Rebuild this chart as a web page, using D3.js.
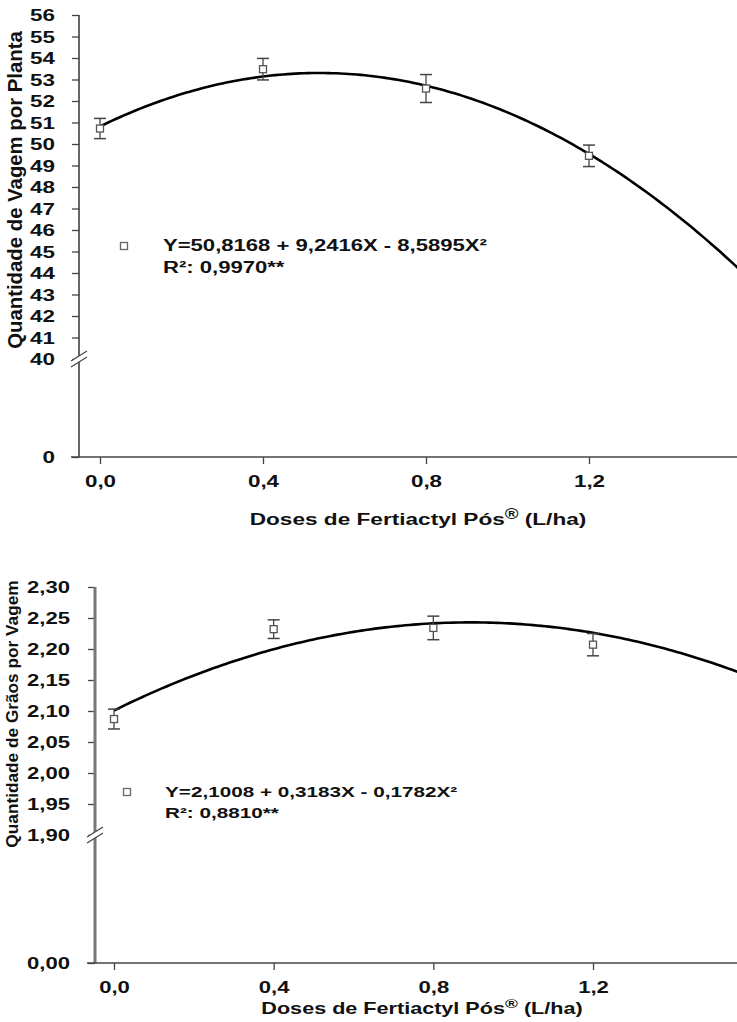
<!DOCTYPE html>
<html><head><meta charset="utf-8">
<script src="https://cdn.jsdelivr.net/npm/d3@7"></script>
<style>
html,body{margin:0;padding:0;background:#fff;}
svg text{font-family:"Liberation Sans",Arial,sans-serif;font-weight:bold;fill:#111;}
</style></head>
<body><svg id="c" width="737" height="1022"></svg>
<script>
// ---- data ----
const doses = [0, 0.4, 0.8, 1.2];
const xTickValuesTop = [0, 0.4, 0.8, 1.2, 1.6];
const xTickValuesBottom = [0, 0.4, 0.8, 1.2];
const xTickLabels = ["0,0", "0,4", "0,8", "1,2", "1,6"];

const vagemMeans = [50.72, 53.48, 52.58, 49.45];
const vagemErr = [0.47, 0.5, 0.65, 0.5];
const vagemCoef = [50.8168, 9.2416, -8.5895];
const vagemTicks = [0, 40, 41, 42, 43, 44, 45, 46, 47, 48, 49, 50, 51, 52, 53, 54, 55, 56];
const vagemTickLabels = ["0","40","41","42","43","44","45","46","47","48","49","50","51","52","53","54","55","56"];

const graosMeans = [2.087, 2.232, 2.234, 2.207];
const graosErr = [0.016, 0.015, 0.019, 0.018];
const graosCoef = [2.1008, 0.3183, -0.1782];
const graosTicks = [0, 1.90, 1.95, 2.00, 2.05, 2.10, 2.15, 2.20, 2.25, 2.30];
const graosTickLabels = ["0,00","1,90","1,95","2,00","2,05","2,10","2,15","2,20","2,25","2,30"];

const svg = d3.select("#c");

// horizontal stretch of a text about its anchor point
function stretch(sel, sx){
  sel.each(function(){
    const t = d3.select(this);
    const x = +t.attr("x") || 0, y = +t.attr("y") || 0;
    t.attr("x",0).attr("y",0).attr("transform",`translate(${x},${y}) scale(${sx},1)`);
  });
}

function panel(cfg){
  const g = svg.append("g");
  const x = d3.scaleLinear().domain([0,1.2]).range(cfg.xr);
  const y = d3.scaleLinear().domain(cfg.ydom).range(cfg.yr);
  // y axis
  const ya = d3.axisLeft(y).tickValues(cfg.yticks).tickFormat((d,i)=>cfg.ylabels[i]).tickSize(7).tickPadding(cfg.ypad);
  const yg = g.append("g").attr("transform",`translate(${cfg.ax},0)`).call(ya);
  yg.select(".domain").remove();
  yg.selectAll(".tick line").attr("stroke","#444").attr("stroke-width",1.3);
  yg.selectAll(".tick text").style("font-size",cfg.tfs+"px").attr("dy",null).attr("dominant-baseline","central");
  stretch(yg.selectAll(".tick text"), cfg.sx);
  g.append("line").attr("x1",cfg.ax).attr("x2",cfg.ax).attr("y1",y(cfg.ydom[2])).attr("y2",y(0))
    .attr("stroke",cfg.axColor).attr("stroke-width",cfg.axW);
  // x axis
  const xa = d3.axisBottom(x).tickValues(cfg.xticks).tickFormat((d,i)=>xTickLabels[i]).tickSize(7).tickPadding(cfg.xpad);
  const xg = g.append("g").attr("transform",`translate(0,${y(0)})`).call(xa);
  xg.select(".domain").remove();
  xg.selectAll(".tick line").attr("stroke","#444").attr("stroke-width",1.3);
  xg.selectAll(".tick text").style("font-size",cfg.tfs+"px");
  stretch(xg.selectAll(".tick text"), cfg.sx);
  g.append("line").attr("x1",cfg.ax-8).attr("x2",737).attr("y1",y(0)).attr("y2",y(0))
    .attr("stroke","#444").attr("stroke-width",1.5);
  // break marks
  const by = y(cfg.ydom[1]);
  g.append("path").attr("d",`M${cfg.ax-8},${by+5-3}L${cfg.ax+8},${by-5-3}L${cfg.ax+8},${by-5+3}L${cfg.ax-8},${by+5+3}Z`)
    .attr("fill","#fff").attr("stroke","none");
  [-3,3].forEach(o=>{
    g.append("line").attr("x1",cfg.ax-8).attr("y1",by+5+o).attr("x2",cfg.ax+8).attr("y2",by-5+o)
      .attr("stroke","#444").attr("stroke-width",1.2);
  });
  // axis titles
  g.append("text").attr("transform",`translate(${cfg.ytx},${cfg.yty}) scale(${cfg.ysx},${cfg.ysy}) rotate(-90)`).attr("text-anchor","middle")
    .attr("dominant-baseline","central").style("font-size",cfg.yfs+"px").text(cfg.ytitle);
  const xt = g.append("text").attr("x",cfg.xtx).attr("y",cfg.xty).attr("text-anchor","middle")
    .style("font-size",cfg.xfs+"px");
  xt.append("tspan").text("Doses de Fertiactyl Pós");
  xt.append("tspan").attr("dy",-6).style("font-size",(cfg.xfs-3)+"px").text("®");
  xt.append("tspan").attr("dy",6).text(" (L/ha)");
  stretch(xt, cfg.xsx);
  // regression curve
  const xs = d3.range(0, 1.6001, 0.01);
  const c = cfg.coef;
  const line = d3.line().x(d=>x(d)).y(d=>y(c[0]+c[1]*d+c[2]*d*d));
  g.append("path").datum(xs).attr("d",line).attr("fill","none").attr("stroke","#000").attr("stroke-width",2.6);
  // error bars
  const pts = doses.map((d,i)=>({d, m:cfg.means[i], e:cfg.err[i]}));
  const eb = g.selectAll(".eb").data(pts).enter().append("g");
  eb.append("line").attr("x1",p=>x(p.d)).attr("x2",p=>x(p.d)).attr("y1",p=>y(p.m-p.e)).attr("y2",p=>y(p.m+p.e))
    .attr("stroke","#444").attr("stroke-width",1.3);
  [1,-1].forEach(s=>{
    eb.append("line").attr("x1",p=>x(p.d)-6).attr("x2",p=>x(p.d)+6).attr("y1",p=>y(p.m+s*p.e)).attr("y2",p=>y(p.m+s*p.e))
      .attr("stroke","#444").attr("stroke-width",1.5);
  });
  eb.append("rect").attr("x",p=>x(p.d)-3.5).attr("y",p=>y(p.m)-3.5).attr("width",7).attr("height",7)
    .attr("fill","#fff").attr("stroke","#555").attr("stroke-width",1.3);
  // legend
  g.append("rect").attr("x",cfg.lx-3.5).attr("y",cfg.ly-3.5).attr("width",7).attr("height",7)
    .attr("fill","#fff").attr("stroke","#666").attr("stroke-width",1.3);
  const t1 = g.append("text").attr("x",cfg.lx+cfg.ldx).attr("y",cfg.ly).attr("dominant-baseline","central")
    .style("font-size",cfg.lfs+"px").text(cfg.eq);
  const t2 = g.append("text").attr("x",cfg.lx+cfg.ldx).attr("y",cfg.ly+cfg.lgap).attr("dominant-baseline","central")
    .style("font-size",cfg.lfs+"px").text(cfg.r2);
  stretch(t1, cfg.lsx); stretch(t2, cfg.lsx);
}

panel({
  xr:[100,589], ydom:[0,40,56], yr:[457,359,15], ax:79, axColor:"#333", axW:1.5,
  yticks:vagemTicks, ylabels:vagemTickLabels, tfs:16, sx:1.4, ypad:17, xpad:12,
  xticks:xTickValuesTop,
  means:vagemMeans, err:vagemErr, coef:vagemCoef,
  ytitle:"Quantidade de Vagem  por Planta", ytx:15, yty:190, yfs:18, ysx:1.12, ysy:1.13,
  xtx:418, xty:525, xfs:17, xsx:1.33,
  lx:124, ly:246, ldx:39, lfs:16, lgap:22, lsx:1.38,
  eq:"Y=50,8168 + 9,2416X - 8,5895X²", r2:"R²: 0,9970**"
});
panel({
  xr:[114,593], ydom:[0,1.90,2.30], yr:[963,835,587], ax:95, axColor:"#777", axW:3,
  yticks:graosTicks, ylabels:graosTickLabels, tfs:16, sx:1.38, ypad:18, xpad:12,
  xticks:xTickValuesBottom,
  means:graosMeans, err:graosErr, coef:graosCoef,
  ytitle:"Quantidade de Grãos por Vagem", ytx:13, yty:714, yfs:15, ysx:1.12, ysy:1.15,
  xtx:422, xty:1014, xfs:16, xsx:1.35,
  lx:127, ly:792, ldx:38, lfs:15, lgap:21, lsx:1.38,
  eq:"Y=2,1008 + 0,3183X - 0,1782X²", r2:"R²: 0,8810**"
});
</script></body></html>
